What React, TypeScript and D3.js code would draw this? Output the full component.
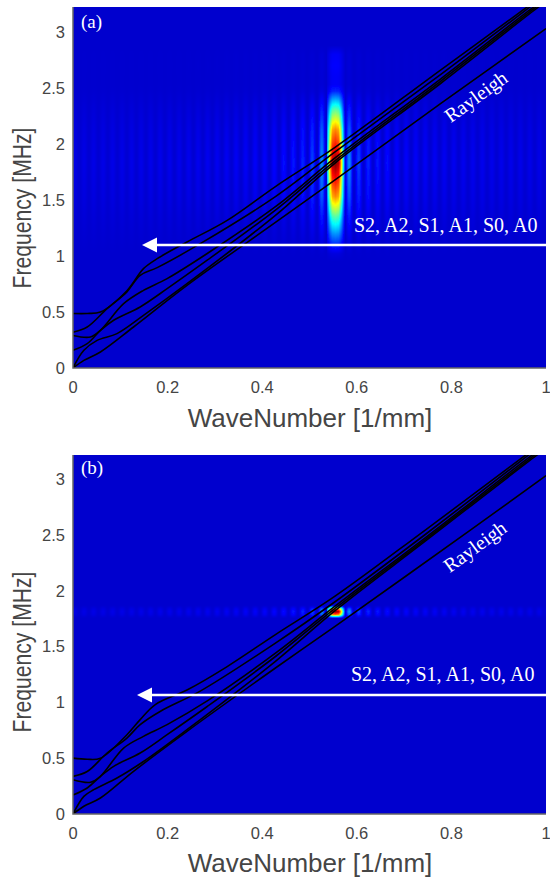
import React, { useMemo } from "react";
import * as d3 from "d3";

const WIDTH = 550;
const HEIGHT = 877;
const K_DOMAIN = [0, 1];
const X_TICKS = [0, 0.2, 0.4, 0.6, 0.8, 1];
const Y_TICKS = [0, 0.5, 1, 1.5, 2, 2.5, 3];
const MODE_LABEL = "S2, A2, S1, A1, S0, A0";

type Pt = [number, number];

// dispersion curves, panel (a): [wavenumber, frequency]
const aS2: Pt[] = [[0,.487],[.03,.487],[.058,.5],[.114,.69],[.149,.887],[.178,.976],[.241,1.125],[.326,1.318],[.428,1.62],[.554,1.97],[.777,2.66],[.956,3.21],[1,3.35]];
const aA2: Pt[] = [[0,.32],[.03,.366],[.072,.53],[.114,.68],[.142,.827],[.178,.896],[.269,1.11],[.428,1.53],[.554,1.93],[.777,2.62],[.962,3.21],[1,3.33]];
const aS1: Pt[] = [[0,.29],[.037,.277],[.058,.336],[.107,.574],[.149,.693],[.199,.798],[.283,1.02],[.428,1.44],[.554,1.875],[.777,2.58],[.97,3.21],[1,3.3]];
const aA1: Pt[] = [[0,.158],[.03,.217],[.058,.336],[.086,.426],[.142,.545],[.199,.708],[.283,.96],[.428,1.41],[.554,1.85],[.777,2.56],[.975,3.21],[1,3.29]];
const aS0: Pt[] = [[0,0],[.023,.158],[.051,.247],[.093,.307],[.149,.47],[.241,.753],[.428,1.363],[.554,1.83],[.777,2.54],[.98,3.21],[1,3.27]];
const aA0: Pt[] = [[0,0],[.023,.068],[.058,.143],[.128,.366],[.241,.738],[.428,1.3],[.554,1.68],[.777,2.36],[1,3.03]];

// dispersion curves, panel (b)
const bS2: Pt[] = [[0,.5],[.03,.49],[.058,.5],[.114,.71],[.142,.845],[.174,.98],[.241,1.11],[.326,1.32],[.428,1.606],[.554,1.95],[.744,2.54],[.956,3.21],[1,3.35]];
const bA2: Pt[] = [[0,.337],[.03,.38],[.072,.546],[.114,.68],[.142,.8],[.185,.92],[.269,1.1],[.428,1.53],[.554,1.9],[.744,2.5],[.962,3.21],[1,3.33]];
const bS1: Pt[] = [[0,.307],[.037,.284],[.058,.337],[.107,.59],[.149,.695],[.199,.8],[.283,1.01],[.428,1.44],[.554,1.86],[.744,2.47],[.97,3.21],[1,3.3]];
const bA1: Pt[] = [[0,.17],[.03,.233],[.058,.337],[.086,.427],[.142,.546],[.199,.71],[.283,.96],[.428,1.41],[.554,1.84],[.744,2.455],[.975,3.21],[1,3.29]];
const bS0: Pt[] = [[0,0],[.023,.158],[.044,.218],[.093,.322],[.149,.47],[.241,.755],[.428,1.367],[.554,1.82],[.744,2.44],[.98,3.21],[1,3.27]];
const bA0: Pt[] = [[0,0],[.023,.069],[.058,.143],[.128,.382],[.241,.74],[.428,1.307],[.554,1.68],[.843,2.55],[1,3.03]];

// spectrum peak: amplitude across wavenumber (offset from the peak)
const PEAK_K = 0.555;
const mainLobeOffset = [0, .0063, .0095, .0127, .0159, .019];
const mainLobeAmp = [1, .95, .82, .62, .38, .15];
const sideLobeGap = 0.0201;
const sideLobeAmp = [.2,.12,.09,.075,.065,.055,.05,.046,.043,.04,.038,.036,.034,.033,.032,.03,.03,.029,.028,.027,.026,.025,.025,.024,.024,.023,.023,.022,.022,.021];

// spectrum peak: amplitude across frequency
const aFreq = [.95, 1.02, 1.1, 1.2, 1.35, 1.53, 1.83, 2.13, 2.2, 2.31, 2.41, 2.47, 2.53, 2.6, 2.7, 2.8, 2.88, 3.2];
const aFreqAmp = [0, .02, .1, .22, .42, .72, 1, .72, .6, .42, .22, .1, .05, .05, .06, .05, 0, 0];
const bFreq = [1.75, 1.765, 1.785, 1.811, 1.835, 1.855, 1.87];
const bFreqAmp = [0, .25, .75, 1, .75, .25, 0];

const jet = d3.scaleLinear<string>()
  .domain([0, .125, .375, .625, .875, 1])
  .range(["#00008f", "#0000ff", "#00ffff", "#ffff00", "#ff0000", "#800000"])
  .clamp(true);

const mainScale = d3.scaleLinear().domain(mainLobeOffset).range(mainLobeAmp).clamp(true);

function kAmp(k: number): number {
  const o = Math.abs(k - PEAK_K);
  if (o <= mainLobeOffset[mainLobeOffset.length - 1]) return mainScale(o);
  const r = (o - mainLobeOffset[mainLobeOffset.length - 1]) / sideLobeGap;
  const i = Math.min(Math.floor(r), sideLobeAmp.length - 1);
  const f = r - Math.floor(r);
  const s = Math.sin(Math.PI * f);
  return .006 + sideLobeAmp[i] * s * s;
}

function heatUrl(w: number, h: number, x: d3.ScaleLinear<number, number>, y: d3.ScaleLinear<number, number>, fs: number[], as: number[], x0: number, y0: number) {
  const c = document.createElement("canvas");
  c.width = w; c.height = h;
  const g = c.getContext("2d")!;
  const img = g.createImageData(w, h);
  const fAmp = d3.scaleLinear().domain(fs).range(as).clamp(true);
  const bg = 0.07;
  for (let j = 0; j < h; j++) {
    const fa = fAmp(y.invert(y0 + j + .5));
    for (let i = 0; i < w; i++) {
      const col = d3.rgb(jet(bg + kAmp(x.invert(x0 + i + .5)) * fa * .93));
      const p = (j * w + i) * 4;
      img.data[p] = col.r; img.data[p + 1] = col.g; img.data[p + 2] = col.b; img.data[p + 3] = 255;
    }
  }
  g.putImageData(img, 0, 0);
  return c.toDataURL();
}

const SANS = "'Liberation Sans', Arial, sans-serif";
const SERIF = "'Liberation Serif', 'Times New Roman', serif";
const GREY = "#454545";

function Panel(p: {
  id: string; letter: string; top: number; bottom: number; fTop: number; curves: Pt[][];
  freq: number[]; amp: number[]; arrowY: number; arrowTip: number; textX: number; textY: number;
  rayX: number; rayY: number; letterY: number; tickY: number; labelY: number; freqY: number;
}) {
  const L = 73, R = 546;
  const x = d3.scaleLinear().domain(K_DOMAIN).range([L, R]);
  const y = d3.scaleLinear().domain([0, p.fTop]).range([p.bottom, p.top]);
  const line = d3.line<Pt>().x(d => x(d[0])).y(d => y(d[1])).curve(d3.curveCatmullRom.alpha(0.5));
  const href = useMemo(() => heatUrl(R - L, p.bottom - p.top, x, y, p.freq, p.amp, L, p.top), []);
  return (
    <g>
      <clipPath id={p.id}><rect x={L} y={p.top} width={R - L} height={p.bottom - p.top} /></clipPath>
      <image href={href} x={L} y={p.top} width={R - L} height={p.bottom - p.top} filter="url(#soft)" />
      <g clipPath={`url(#${p.id})`}>
        <g filter="url(#soft)">
          {p.curves.map((c, i) => <path key={i} d={line(c) ?? ""} fill="none" stroke="#000" strokeWidth={1.6} />)}
        </g>
      </g>
      <path d={`M${L},${p.top}V${p.bottom}H${R}`} fill="none" stroke="#666" strokeWidth={1.5} />
      {Y_TICKS.map(t => (
        <text key={t} x={65} y={y(t) + 6} textAnchor="end" fontFamily={SANS} fontSize={16.5} fill={GREY}>{t}</text>
      ))}
      {X_TICKS.map(t => (
        <text key={t} x={x(t)} y={p.tickY} textAnchor="middle" fontFamily={SANS} fontSize={16.5} fill={GREY}>{t}</text>
      ))}
      <text x={310} y={p.labelY} textAnchor="middle" fontFamily={SANS} fontSize={26} fill={GREY}>WaveNumber [1/mm]</text>
      <text transform={`translate(31,${p.freqY}) rotate(-90)`} textAnchor="middle" fontFamily={SANS} fontSize={25} textLength={161} lengthAdjust="spacingAndGlyphs" fill={GREY}>Frequency [MHz]</text>
      <line x1={p.arrowTip + 12} x2={R + 1} y1={p.arrowY} y2={p.arrowY} stroke="#fff" strokeWidth={2.5} />
      <path d={`M${p.arrowTip},${p.arrowY}l15,-7.5v15z`} fill="#fff" />
      <text x={p.textX} y={p.textY} fontFamily={SERIF} fontSize={20} fill="#fff">{MODE_LABEL}</text>
      <text transform={`translate(${p.rayX},${p.rayY}) rotate(-36)`} textAnchor="middle" fontFamily={SERIF} fontSize={20} fill="#fff">Rayleigh</text>
      <text x={81} y={p.letterY} fontFamily={SERIF} fontSize={19} fill="#fff">{p.letter}</text>
    </g>
  );
}

export default function App() {
  return (
    <svg width={WIDTH} height={HEIGHT} viewBox={`0 0 ${WIDTH} ${HEIGHT}`} style={{ position: "fixed", left: 0, top: 0, background: "#fff" }}>
      <defs>
        <filter id="soft" x="-2%" y="-2%" width="104%" height="104%"><feGaussianBlur stdDeviation={0.45} /></filter>
      </defs>
      <Panel id="pa" letter="(a)" top={7} bottom={368} fTop={3.223} curves={[aS2, aA2, aS1, aA1, aS0, aA0]}
        freq={aFreq} amp={aFreqAmp} arrowY={245} arrowTip={142} textX={354} textY={232}
        rayX={480} rayY={102} letterY={28} tickY={393} labelY={427} freqY={208} />
      <Panel id="pb" letter="(b)" top={455} bottom={814} fTop={3.214} curves={[bS2, bA2, bS1, bA1, bS0, bA0]}
        freq={bFreq} amp={bFreqAmp} arrowY={695} arrowTip={137} textX={351} textY={681}
        rayX={479} rayY={552} letterY={474} tickY={839} labelY={872} freqY={652} />
    </svg>
  );
}
